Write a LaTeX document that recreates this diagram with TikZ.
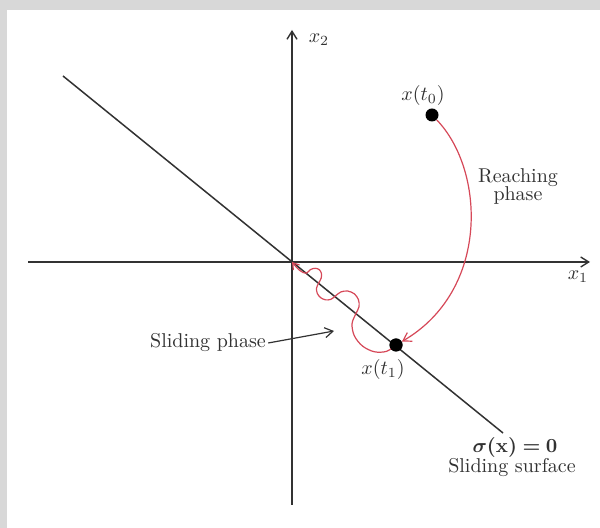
\documentclass[tikz,border=0pt]{standalone}
\usepackage{amsmath,bm}
\usetikzlibrary{arrows.meta}
\definecolor{bggray}{RGB}{216,216,216}
\definecolor{ink}{RGB}{50,50,50}
\definecolor{redc}{RGB}{214,72,88}
\begin{document}
\begin{tikzpicture}[x=0.5pt,y=-0.5pt,
  axis/.style={draw=ink,line width=0.7pt,-{Straight Barb[length=4pt,width=5pt]}},
  surf/.style={draw=ink,line width=0.75pt},
  traj/.style={draw=redc,line width=0.6pt},
  dot/.style={circle,fill=black,inner sep=0pt,minimum size=6.5pt},
  lbl/.style={text=ink,font=\normalsize,inner sep=1pt,align=center}]
\useasboundingbox (0,0) rectangle (600,528);
\fill[bggray] (0,0) rectangle (600,528);
\fill[white] (7,10) rectangle (600,528);
% coordinates
\coordinate (O) at (292,262);
\coordinate (x1s) at (28,262);
\coordinate (x1e) at (590,262);
\coordinate (x2s) at (292,505);
\coordinate (x2e) at (292,30);
\coordinate (Ls) at (63,76);
\coordinate (Le) at (503,433);
% axes and surface
\draw[axis] (x1s) -- (x1e);
\draw[axis] (x2s) -- (x2e);
\draw[surf] (Ls) -- (Le);
\node[lbl] (lx1) at (578,277) {$x_1$};
\node[lbl] (lx2) at (319,40) {$x_2$};
% points
\node[dot] (t0) at (432,115) {};
\node[dot] (t1) at (396,345) {};
\node[lbl] (lt0) at (423,96) {$x(t_0)$};
\node[lbl] (lt1) at (383,370) {$x(t_1)$};
% reaching
\draw[traj,-{Straight Barb[length=4pt,width=5pt]}] (t0) .. controls (485,170) and (490,290) .. (t1);
\node[lbl] (reach) at (518,187) {Reaching\\[-3pt]phase};
% sliding trajectory, in a frame along the sliding surface (s toward origin, p below the line)
\begin{scope}[shift={(t1.center)},x={(-0.391pt,0.312pt)},y={(-0.312pt,-0.391pt)}]
\draw[traj,-{Straight Barb[length=3pt,width=4pt]}] plot[smooth,tension=0.55] coordinates {
 (0,0) (3.4,10.8) (12.75,18.8) (25.5,21.7) (38.25,18.8) (47.6,10.8) (51,0)
 (52.8,-7) (57.75,-12.1) (64.5,-14) (71.25,-12.1) (76.2,-7) (78,0)
 (79.4,5) (83.25,8.7) (88.5,10) (93.75,8.7) (97.6,5) (99,0)
 (100.1,-5.5) (103,-9.5) (107,-11) (111,-9.5) (113.9,-5.5) (115,0)
 (122,1.8) (133,0)};
\end{scope}
\node[dot] at (t1) {};
\node[lbl] (slide) at (208,343) {Sliding phase};
\coordinate (sp) at (334,331);
\draw[ink,line width=0.6pt,-{Straight Barb[length=4pt,width=5pt]}] (slide.east) -- (sp);
% surface label
\node[lbl] (sig) at (515,448) {$\bm{\sigma(\mathrm{x}) = 0}$};
\node[lbl] (ss) at (512,468) {Sliding surface};
\end{tikzpicture}
\end{document}
